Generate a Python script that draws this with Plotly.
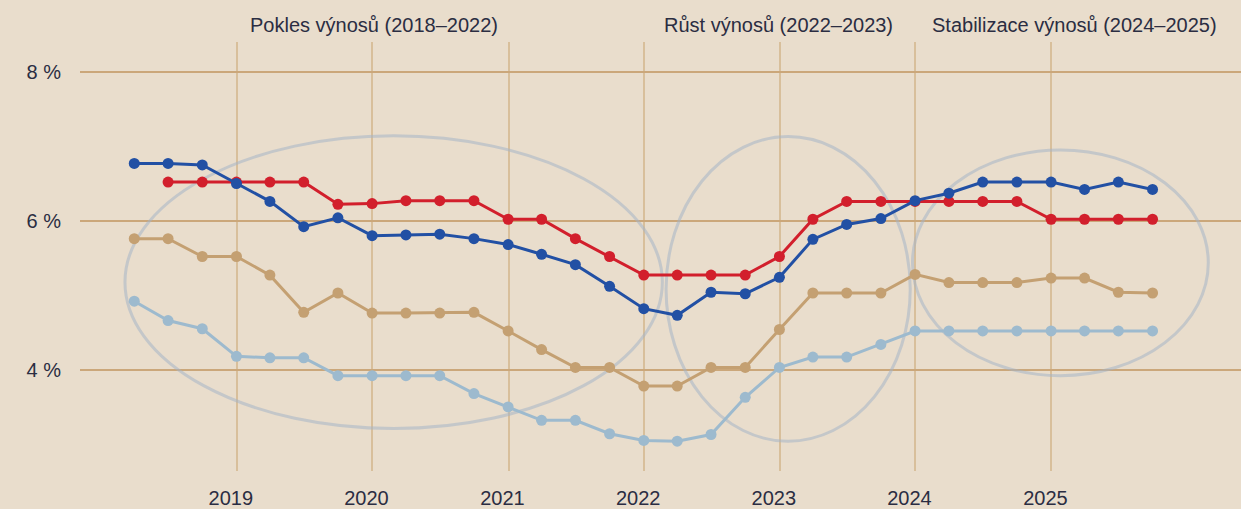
import plotly.graph_objects as go

# Quarterly observation dates
dates = [
    "2018-03-31", "2018-06-30", "2018-09-30", "2018-12-31",
    "2019-03-31", "2019-06-30", "2019-09-30", "2019-12-31",
    "2020-03-31", "2020-06-30", "2020-09-30", "2020-12-31",
    "2021-03-31", "2021-06-30", "2021-09-30", "2021-12-31",
    "2022-03-31", "2022-06-30", "2022-09-30", "2022-12-31",
    "2023-03-31", "2023-06-30", "2023-09-30", "2023-12-31",
    "2024-03-31", "2024-06-30", "2024-09-30", "2024-12-31",
    "2025-03-31", "2025-06-30", "2025-09-30",
]

blue_vals = [6.77, 6.77, 6.75, 6.50, 6.26, 5.92, 6.04, 5.80,
             5.81, 5.82, 5.76, 5.68, 5.55, 5.41, 5.12, 4.82,
             4.73, 5.04, 5.02, 5.24, 5.75, 5.95, 6.03, 6.27,
             6.37, 6.52, 6.52, 6.52, 6.42, 6.52, 6.42]

red_dates = dates[1:]
red_vals = [6.52, 6.52, 6.52, 6.52, 6.52, 6.22, 6.23,
            6.27, 6.27, 6.27, 6.02, 6.02, 5.76, 5.52, 5.27,
            5.27, 5.27, 5.27, 5.52, 6.02, 6.26, 6.26, 6.26,
            6.26, 6.26, 6.26, 6.02, 6.02, 6.02, 6.02]

tan_vals = [5.76, 5.76, 5.52, 5.52, 5.27, 4.77, 5.03, 4.76,
            4.76, 4.76, 4.77, 4.52, 4.27, 4.03, 4.03, 3.78,
            3.78, 4.03, 4.03, 4.54, 5.03, 5.03, 5.03, 5.28,
            5.17, 5.17, 5.17, 5.23, 5.23, 5.04, 5.03]

lightblue_vals = [4.92, 4.66, 4.55, 4.18, 4.16, 4.16, 3.92, 3.92,
                  3.92, 3.92, 3.68, 3.50, 3.32, 3.32, 3.14, 3.05,
                  3.04, 3.13, 3.63, 4.03, 4.17, 4.17, 4.34, 4.52,
                  4.52, 4.52, 4.52, 4.52, 4.52, 4.52, 4.52]

year_ticks = ["2019-01-01", "2020-01-01", "2021-01-01", "2022-01-01",
              "2023-01-01", "2024-01-01", "2025-01-01"]
year_labels = ["2019", "2020", "2021", "2022", "2023", "2024", "2025"]

y_ticks = [4, 6, 8]
y_labels = ["4 %", "6 %", "8 %"]

phase_labels = ["Pokles výnosů (2018–2022)", "Růst výnosů (2022–2023)",
                "Stabilizace výnosů (2024–2025)"]
phase_label_x = ["2020-01-05", "2022-12-29", "2025-03-04"]

# ellipse extents (x0, x1, y0, y1)
ellipses = [
    ("2018-03-06", "2022-02-19", 3.21, 7.14),
    ("2022-03-01", "2023-12-18", 3.04, 7.13),
    ("2023-12-24", "2026-02-27", 3.92, 6.95),
]

BG = "#e9ddcc"
TEXT = "#2b2d42"
FONT = "Liberation Sans, Arial, Helvetica, sans-serif"

fig = go.Figure()

series = [
    (dates, lightblue_vals, "#9dbace"),
    (dates, tan_vals, "#c4a072"),
    (red_dates, red_vals, "#d21f2c"),
    (dates, blue_vals, "#2250a4"),
]
for xs, ys, col in series:
    fig.add_trace(go.Scatter(
        x=xs, y=ys, mode="lines+markers",
        line=dict(color=col, width=3),
        marker=dict(color=col, size=11),
        showlegend=False, hoverinfo="x+y",
    ))

for x0, x1, y0, y1 in ellipses:
    fig.add_shape(type="circle", xref="x", yref="y",
                  x0=x0, x1=x1, y0=y0, y1=y1,
                  line=dict(color="rgba(165,180,198,0.55)", width=3),
                  layer="between")

for txt, xx in zip(phase_labels, phase_label_x):
    fig.add_annotation(text=txt, x=xx, xref="x", y=1.039, yref="paper",
                       xanchor="center", yanchor="middle", showarrow=False,
                       font=dict(size=20, color=TEXT, family=FONT))

fig.update_layout(
    width=1241, height=509,
    margin=dict(l=80, r=0, t=42, b=35),
    paper_bgcolor=BG, plot_bgcolor=BG,
    font=dict(family=FONT, size=20, color=TEXT),
    showlegend=False,
    xaxis=dict(
        type="date",
        range=["2017-11-05", "2026-05-26"],
        tickvals=year_ticks, ticktext=year_labels,
        showgrid=True, gridcolor="#d8bf9b", gridwidth=1.5,
        zeroline=False, showline=False, ticks="",
        ticklabelshift=-6, ticklabelstandoff=13,
        tickfont=dict(size=20, color=TEXT, family=FONT),
    ),
    yaxis=dict(
        range=[2.64, 8.4],
        tickvals=y_ticks, ticktext=y_labels,
        showgrid=True, gridcolor="#cba77a", gridwidth=1.5,
        zeroline=False, showline=False, ticks="",
        ticklabelstandoff=18,
        tickfont=dict(size=20, color=TEXT, family=FONT),
    ),
)

fig.write_html(
    "out.html",
    config={"displayModeBar": False},
    post_script="document.body.style.margin='0';document.body.style.padding='0';"
                "document.body.style.background='" + BG + "';",
)
